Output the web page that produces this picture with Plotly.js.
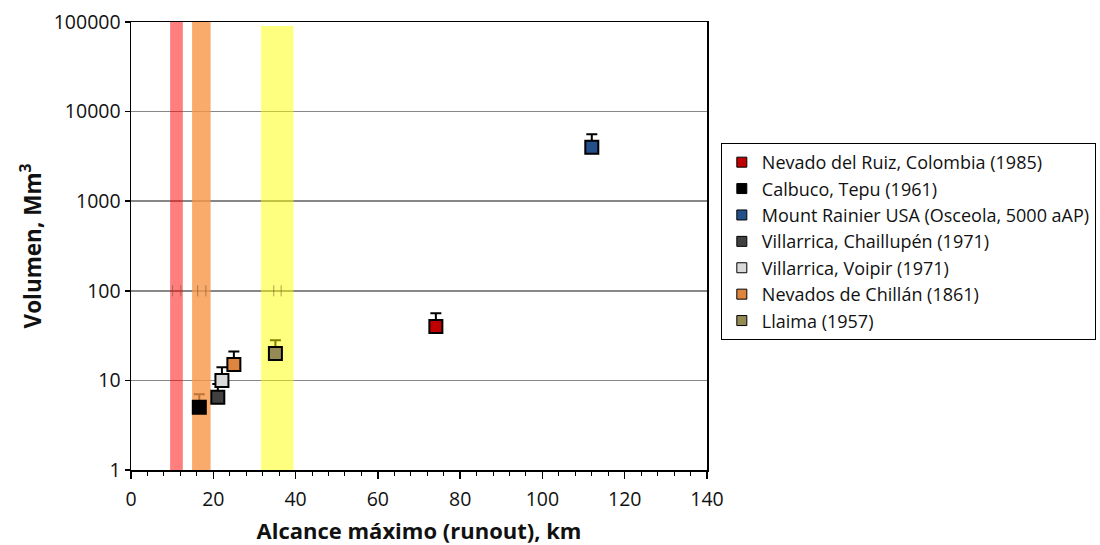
<!DOCTYPE html>
<html>
<head>
<meta charset="utf-8">
<script src="https://cdn.plot.ly/plotly-3.0.1.min.js"></script>
<style>html,body{margin:0;padding:0;background:#fff;}#chart{width:1100px;height:545px;}</style>
</head>
<body>
<div id="chart"></div>
<script>
// ---- data ----
var volcanoNames = [
  "Nevado del Ruiz, Colombia (1985)",
  "Calbuco, Tepu (1961)",
  "Mount Rainier USA (Osceola, 5000 aAP)",
  "Villarrica, Chaillupén (1971)",
  "Villarrica, Voipir (1971)",
  "Nevados de Chillán (1861)",
  "Llaima (1957)"
];
var runoutKm = [74.1, 16.6, 112.0, 21.1, 22.1, 25.0, 35.1];
var volumeMm3 = [40, 5, 4000, 6.5, 10, 15, 20];
var errorPlusPct = 40;

var bandCenterKm = [11.05, 17.1, 35.55];
var bandWidthKm = [3.1, 4.5, 7.9];
var bandTopMm3 = [100000, 100000, 90000];
var bandBaseMm3 = [1, 1, 1];

var bandTickKm = [10.1, 12.1, 16.2, 18.2, 34.7, 36.5];
var bandTickMm3 = [100, 100, 100, 100, 100, 100];

var xTickVals = [0, 20, 40, 60, 80, 100, 120, 140];
var yTickVals = [1, 10, 100, 1000, 10000, 100000];
var yTickText = ["1", "10", "100", "1000", "10000", "100000"];

// ---- styles ----
var markerColors = ["#C00000", "#000000", "#24508A", "#404040", "#D9D9D9", "#DD843F", "#948A54"];
var errColors = ["#000000", "rgb(190,115,55)", "#000000", "#000000", "#000000", "#000000", "rgb(128,128,0)"];
var bandColors = ["rgba(255,0,0,0.5)", "rgba(247,150,70,0.8)", "rgba(255,255,0,0.5)"];
var FONT = "'Open Sans', 'Liberation Sans', Arial, sans-serif";

var traces = [];
traces.push({
  type: "bar",
  x: bandCenterKm,
  y: bandTopMm3,
  base: bandBaseMm3,
  width: bandWidthKm,
  marker: {color: bandColors, line: {width: 0}},
  showlegend: false,
  hoverinfo: "skip"
});
traces.push({
  type: "scatter",
  mode: "markers",
  x: bandTickKm,
  y: bandTickMm3,
  marker: {symbol: "line-ns", size: 8, line: {color: "rgba(110,80,50,0.55)", width: 1}},
  showlegend: false,
  hoverinfo: "skip"
});
for (var i = 0; i < volcanoNames.length; i++) {
  traces.push({
    type: "scatter",
    mode: "markers",
    x: [runoutKm[i]],
    y: [volumeMm3[i]],
    name: volcanoNames[i],
    showlegend: false,
    marker: {symbol: "square", size: 13, color: markerColors[i], line: {color: "#000", width: 2}},
    error_y: {type: "percent", value: errorPlusPct, symmetric: false, valueminus: 0,
              color: errColors[i], thickness: 2, width: 5.5}
  });
}
// legend entries
for (var j = 0; j < volcanoNames.length; j++) {
  traces.push({
    type: "scatter",
    mode: "markers",
    x: [null],
    y: [null],
    name: volcanoNames[j],
    showlegend: true,
    marker: {symbol: "square", size: 10, color: markerColors[j], line: {color: "#000", width: 1}}
  });
}

var layout = {
  width: 1100,
  height: 545,
  paper_bgcolor: "#fff",
  plot_bgcolor: "#fff",
  margin: {l: 131, r: 393, t: 22, b: 75, autoexpand: false},
  font: {family: FONT, size: 18, color: "#111"},
  showlegend: true,
  legend: {
    x: 1.024, xanchor: "left", y: 0.73, yanchor: "top",
    bgcolor: "#fff", bordercolor: "#000", borderwidth: 1,
    font: {family: FONT, size: 18, color: "#111"},
    itemclick: false
  },
  xaxis: {
    range: [0, 140],
    tickvals: xTickVals,
    ticks: "outside", ticklen: 7, tickwidth: 1.5, tickcolor: "#000",
    minor: {dtick: 4, ticks: "outside", ticklen: 4, tickwidth: 1, tickcolor: "#000", showgrid: false},
    showline: true, linecolor: "#000", linewidth: 1.5, mirror: true,
    showgrid: false, zeroline: false,
    ticklabelstandoff: 4,
    tickfont: {family: FONT, size: 19.5, color: "#111"},
    title: {text: "<b>Alcance máximo (runout), km</b>", font: {family: FONT, size: 22, color: "#111"}, standoff: 20}
  },
  yaxis: {
    type: "log",
    range: [0, 5],
    tickvals: yTickVals, ticktext: yTickText,
    ticks: "outside", ticklen: 5, tickwidth: 1.5, tickcolor: "#000",
    showline: true, linecolor: "#000", linewidth: 1.5, mirror: true,
    showgrid: true, gridcolor: "#878787", gridwidth: 1.5,
    zeroline: false,
    tickfont: {family: FONT, size: 19.5, color: "#111"},
    title: {text: "<b>Volumen, Mm<sup>3</sup></b>", font: {family: FONT, size: 22.5, color: "#111"}, standoff: 6}
  }
};

Plotly.newPlot("chart", traces, layout, {staticPlot: true, displayModeBar: false});
</script>
</body>
</html>
